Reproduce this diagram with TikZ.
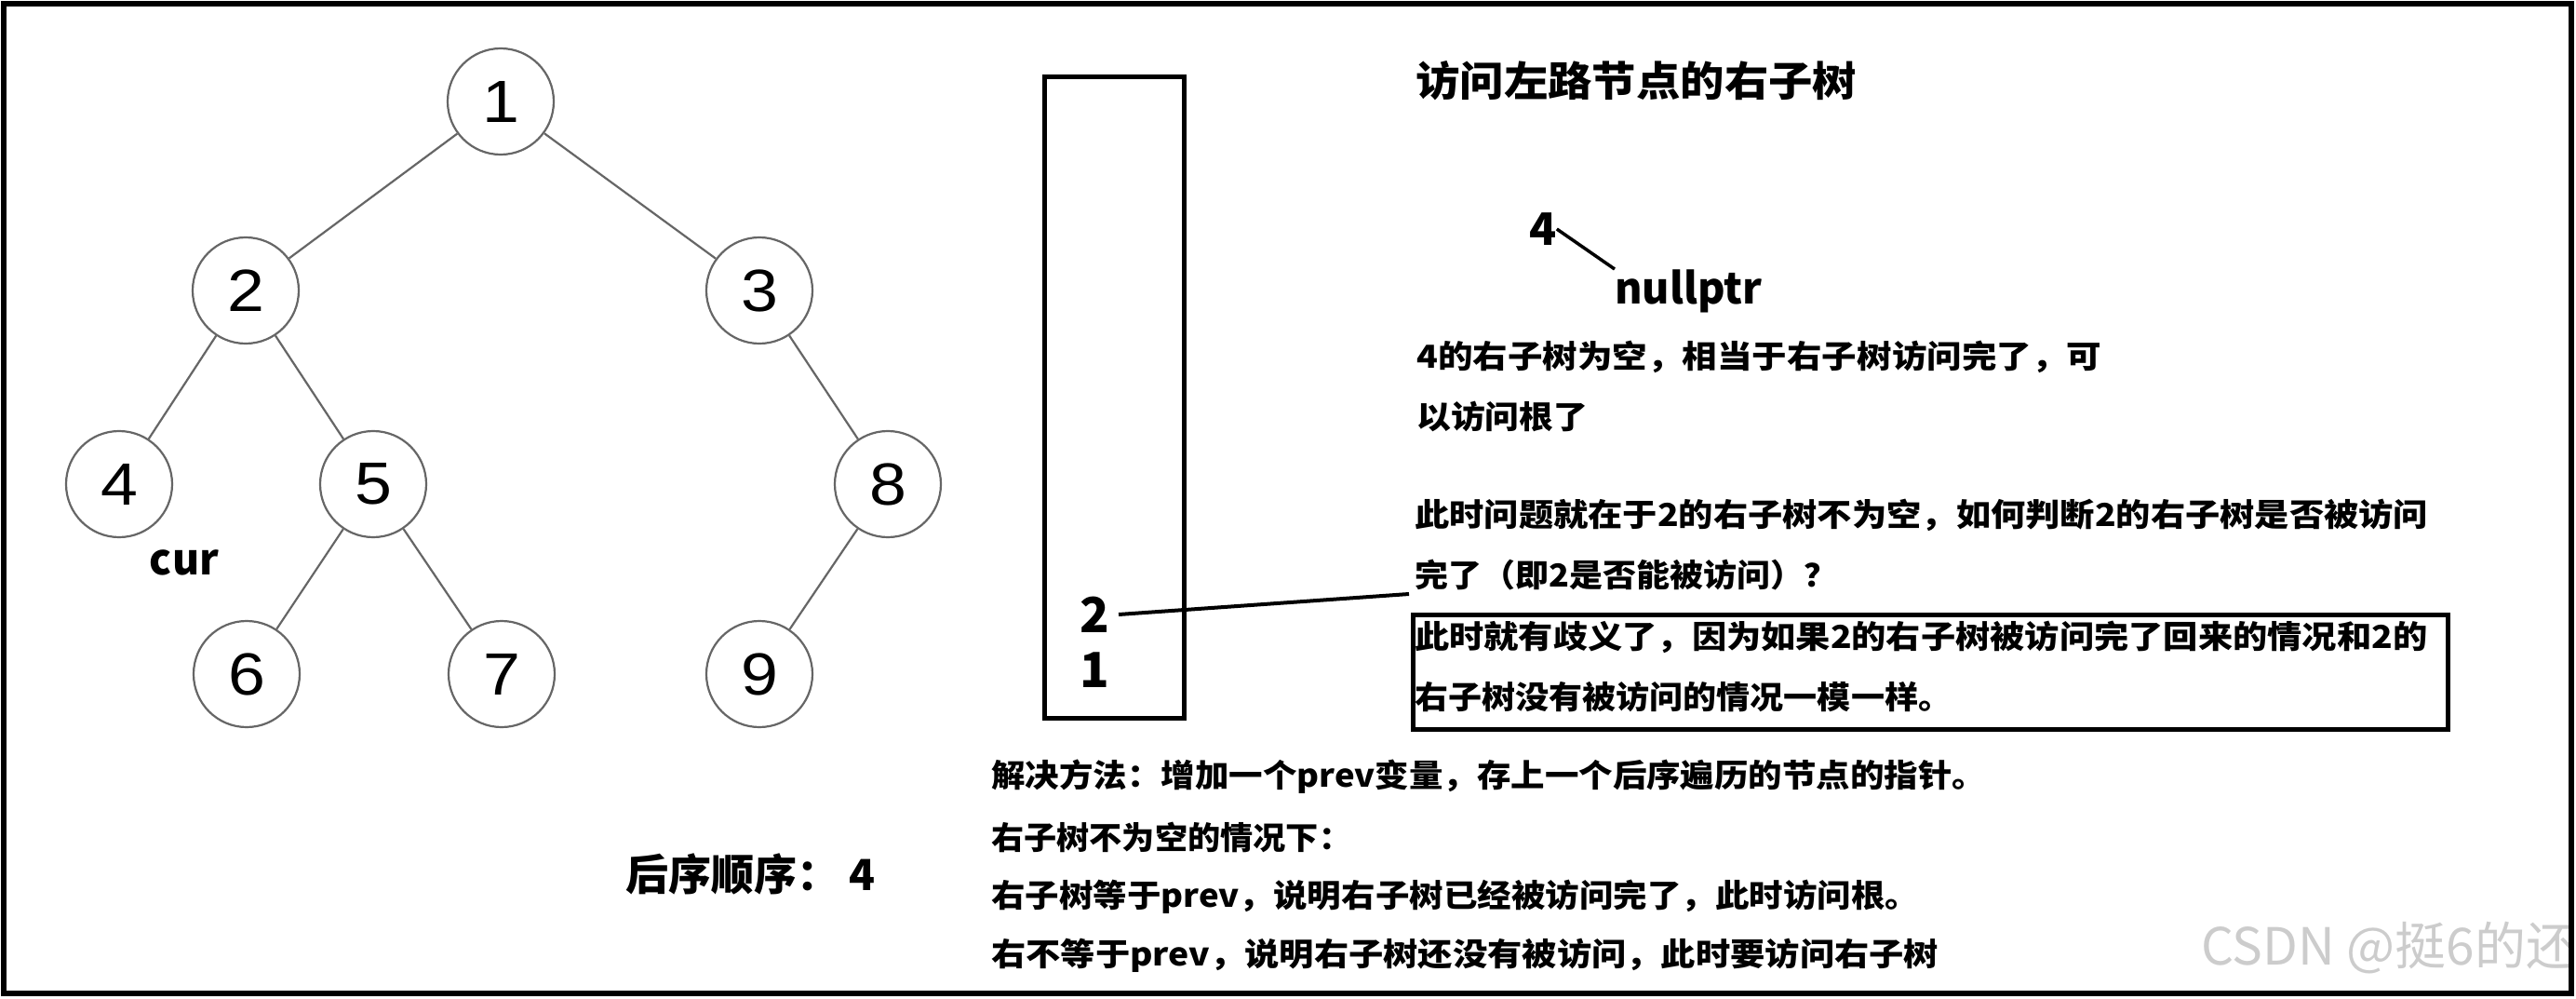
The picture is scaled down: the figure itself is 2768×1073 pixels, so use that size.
\documentclass[tikz,border=0pt]{standalone}
\usepackage{fontspec}
\usepackage{graphicx}
\setmainfont{Liberation Sans}
\newfontfamily\cjk{Noto Sans CJK SC}
\newfontfamily\arialf{Liberation Sans}
\newcommand\fsz[1]{\fontsize{#1}{#1}\selectfont}
\newcommand\wfit[2]{\resizebox{#1pt}{\height}{#2}}
\begin{document}
\begin{tikzpicture}[x=1pt,y=-1pt,
  tnode/.style={circle, draw=black!60, line width=2.2pt, minimum size=114pt, inner sep=0pt, font=\arialf\fsz{64}},
  tedge/.style={draw=black!60, line width=2.2pt},
  btxt/.style={inner sep=0pt, anchor=west, font=\cjk\bfseries\fsz{34}},
  bigtxt/.style={inner sep=0pt, font=\cjk\bfseries\fsz{48}},
  thick box/.style={draw=black, line width=5pt, inner sep=0pt}
]
\useasboundingbox (0,0) rectangle (2768,1073);
\fill[white] (0,0) rectangle (2768,1073);

% tree
\node[tnode] (n1) at (538,109) {\scalebox{1.12}[1]{1}};
\node[tnode] (n2) at (264,312) {\scalebox{1.12}[1]{2}};
\node[tnode] (n3) at (816,312) {\scalebox{1.12}[1]{3}};
\node[tnode] (n4) at (128,520) {\scalebox{1.12}[1]{4}};
\node[tnode] (n5) at (401,520) {\scalebox{1.12}[1]{5}};
\node[tnode] (n8) at (954,520) {\scalebox{1.12}[1]{8}};
\node[tnode] (n6) at (265,724) {\scalebox{1.12}[1]{6}};
\node[tnode] (n7) at (539,724) {\scalebox{1.12}[1]{7}};
\node[tnode] (n9) at (816,724) {\scalebox{1.12}[1]{9}};
\draw[tedge] (n1) -- (n2);
\draw[tedge] (n1) -- (n3);
\draw[tedge] (n2) -- (n4);
\draw[tedge] (n2) -- (n5);
\draw[tedge] (n3) -- (n8);
\draw[tedge] (n5) -- (n6);
\draw[tedge] (n5) -- (n7);
\draw[tedge] (n8) -- (n9);

\node[bigtxt, font=\cjk\bfseries\fsz{46}] (cur) at (198,604) {\wfit{74}{cur}};
\node[bigtxt, anchor=west, font=\cjk\bfseries\fsz{46}] (order) at (672,939) {后序顺序：\ 4};

% stack
\node[draw=black, line width=4.5pt, inner sep=0pt, minimum width=150pt, minimum height=689pt, anchor=north west] (stack) at (1120,80) {};
\node[bigtxt, font=\cjk\bfseries\fsz{52}] (s2) at (1176,660) {2};
\node[bigtxt, font=\cjk\bfseries\fsz{52}] (s1) at (1176,720) {1};

% right texts
\node[btxt, font=\cjk\bfseries\fsz{44}] (title) at (1521,87) {\wfit{474}{访问左路节点的右子树}};
\node[bigtxt, font=\cjk\bfseries\fsz{48}] (four) at (1658,246) {4};
\node[inner sep=0pt, anchor=base west, font=\cjk\bfseries\fsz{46}] (null) at (1735,326) {\wfit{158}{nullptr}};
\draw[line width=3.5pt] (four.east) -- (null.north west);

\node[btxt] (l1) at (1522,383) {\wfit{736}{4的右子树为空，相当于右子树访问完了，可}};
\node[btxt] (l2) at (1522,447) {\wfit{184}{以访问根了}};
\node[btxt] (q1) at (1520,553) {\wfit{1089}{此时问题就在于2的右子树不为空，如何判断2的右子树是否被访问}};
\node[btxt] (q2) at (1520,618) {\wfit{454}{完了（即2是否能被访问）？}};

\node[thick box, minimum width=1112pt, minimum height=123pt, anchor=north west] (amb) at (1516,658) {};
\node[btxt] (a1) at (1520,684) {\wfit{1088}{此时就有歧义了，因为如果2的右子树被访问完了回来的情况和2的}};
\node[btxt] (a2) at (1520,748) {\wfit{577}{右子树没有被访问的情况一模一样。}};

\coordinate (p2end) at (1514,638);
\draw[line width=4pt] ([xshift=10pt]s2.east) -- (p2end);

\node[btxt] (b1) at (1065,834) {\wfit{1069}{解决方法：增加一个prev变量，存上一个后序遍历的节点的指针。}};
\node[btxt] (b2) at (1065,899) {\wfit{387}{右子树不为空的情况下：}};
\node[btxt] (b3) at (1065,963) {\wfit{997}{右子树等于prev，说明右子树已经被访问完了，此时访问根。}};
\node[btxt] (b4) at (1065,1026) {\wfit{1018}{右不等于prev，说明右子树还没有被访问，此时要访问右子树}};

% watermark
\begin{scope}
\clip (7,7) rectangle (2759,1064);
\node[inner sep=0pt, anchor=west, text=black!20, font=\cjk\fsz{55}] (wm) at (2365,1018) {CSDN @挺6的还};
\end{scope}

% outer frame
\draw[line width=6pt] (4,4) rectangle (2763,1067);
\end{tikzpicture}
\end{document}
